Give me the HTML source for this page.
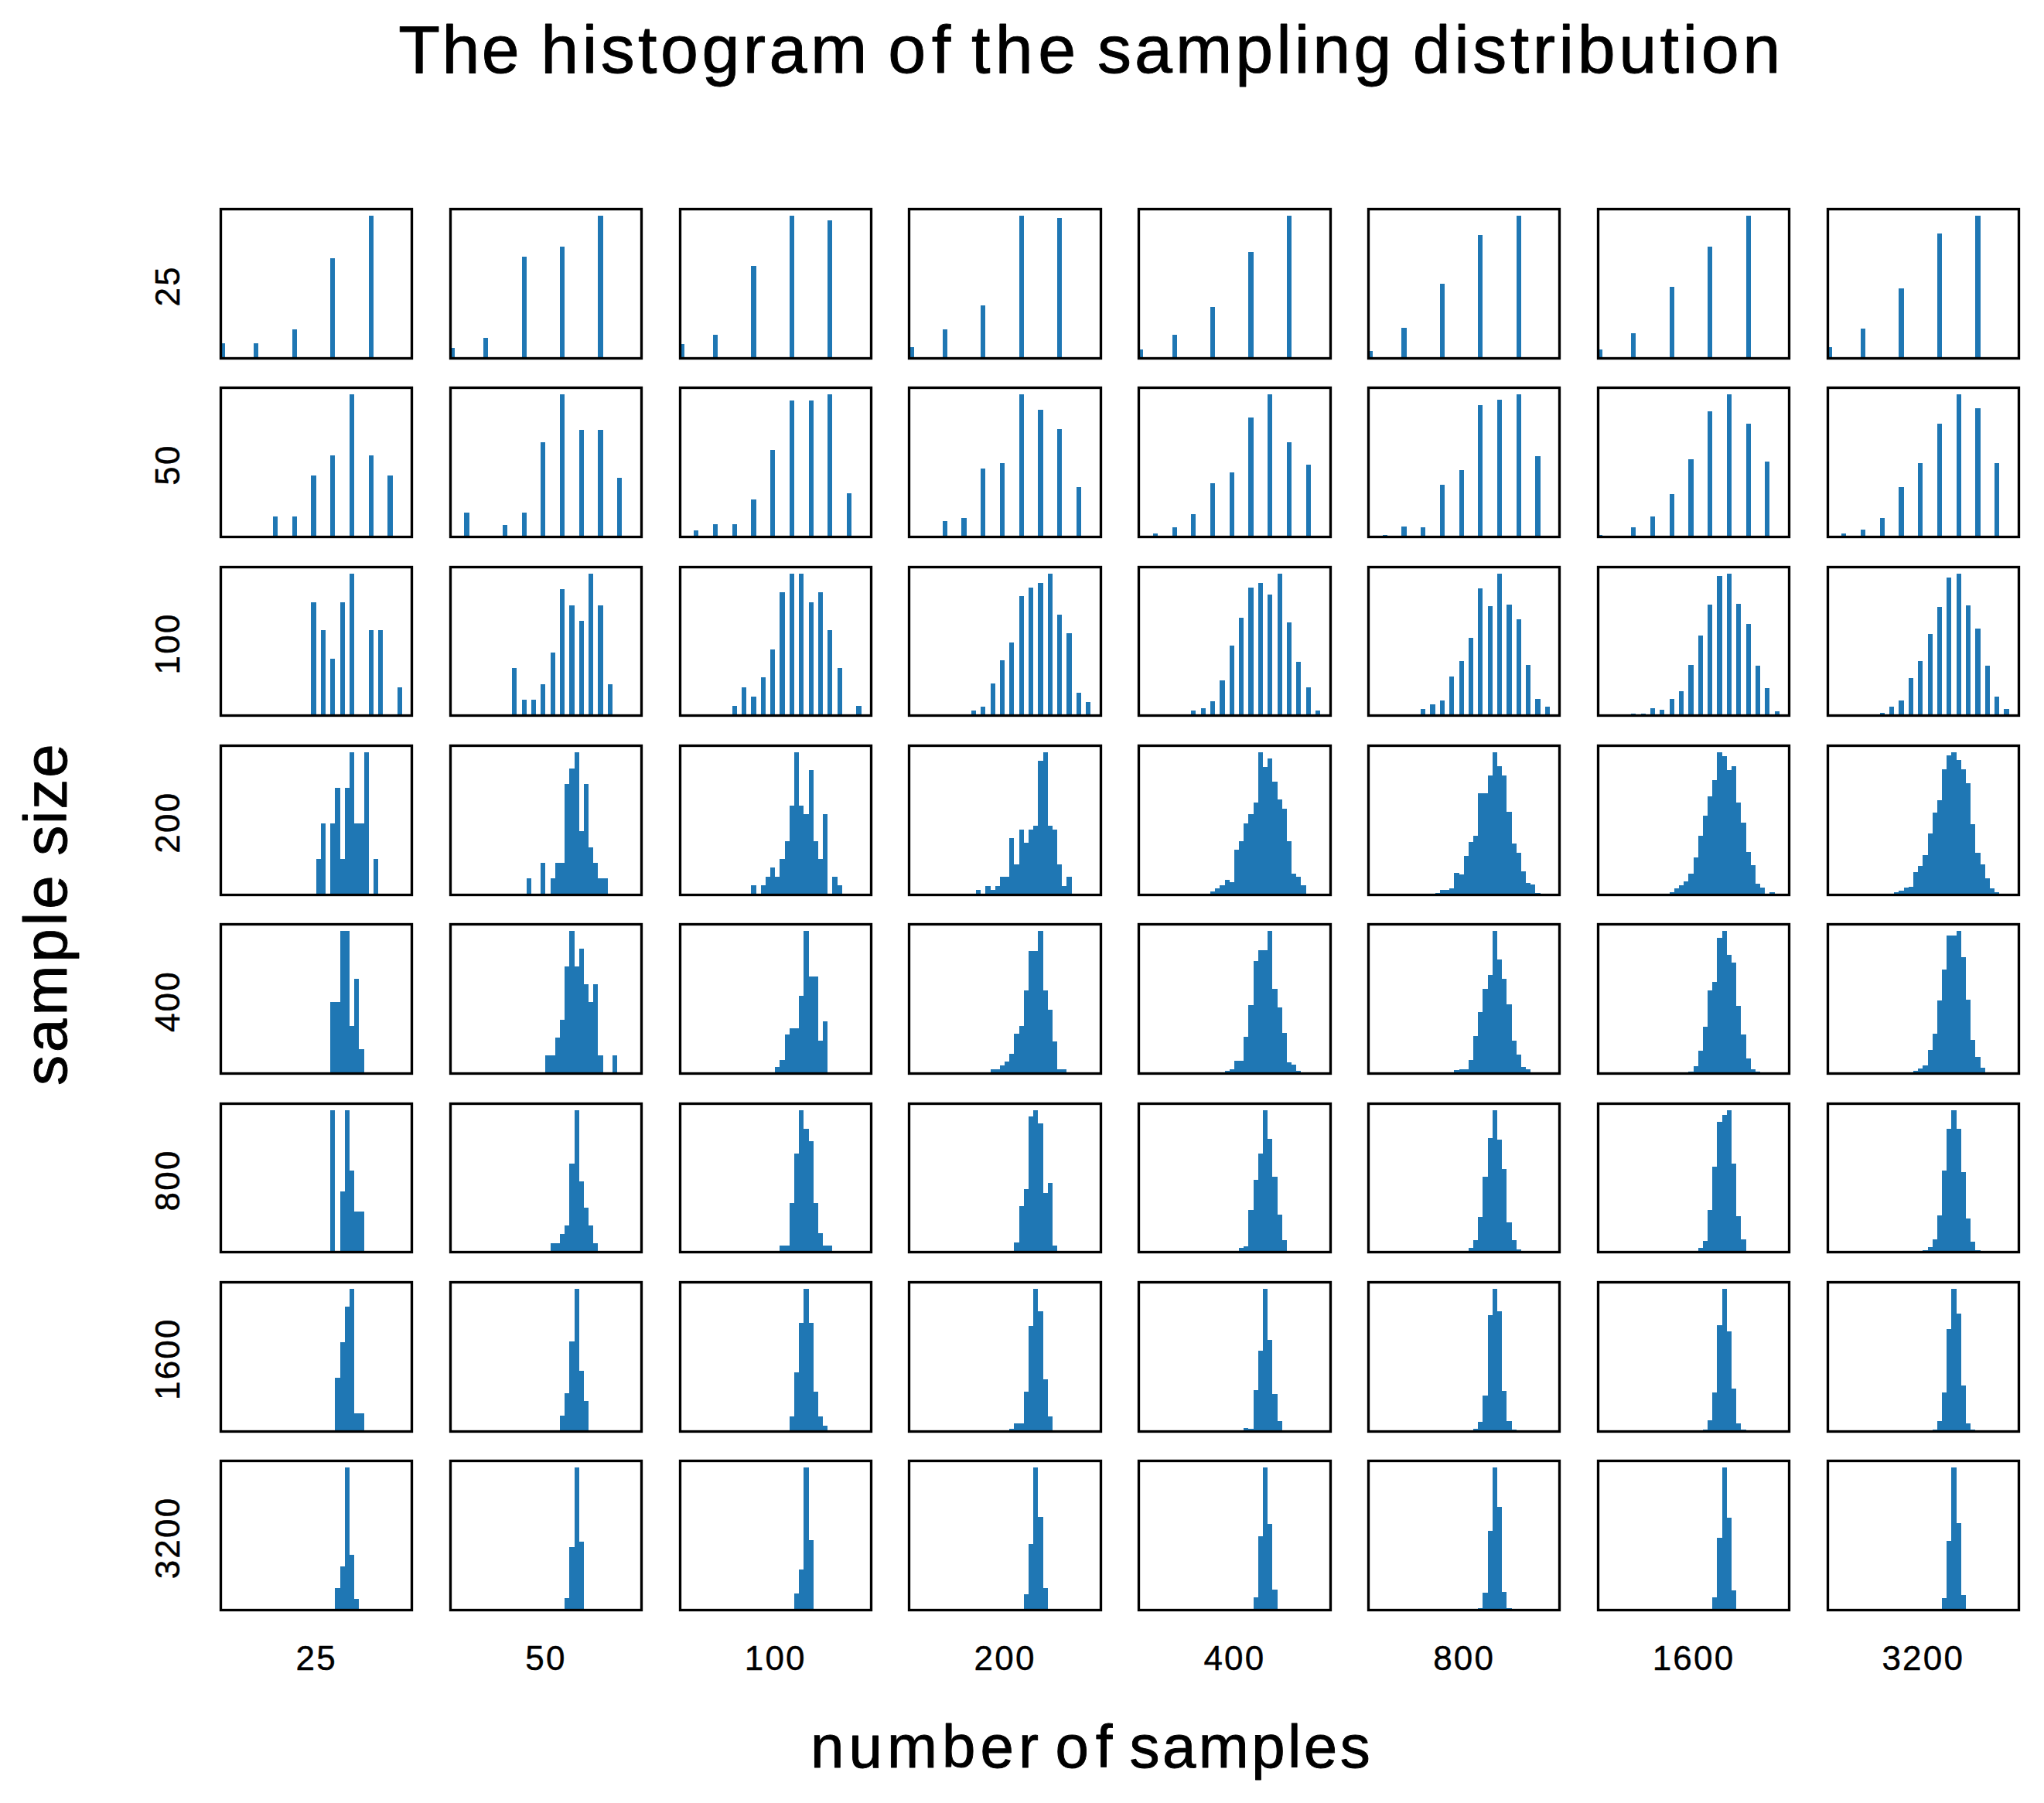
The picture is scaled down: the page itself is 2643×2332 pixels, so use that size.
<!DOCTYPE html>
<html lang="en">
<head>
<meta charset="utf-8">
<title>The histogram of the sampling distribution</title>
<style>
html,body{margin:0;padding:0;background:#fff;}
body{width:2643px;height:2332px;overflow:hidden;}
svg{display:block;}
text{font-family:"Liberation Sans",sans-serif;fill:#000;stroke:#000;stroke-width:0.9px;stroke-linejoin:round;}
.t{stroke-width:0.45px;}
.b{fill:#1f77b4;shape-rendering:crispEdges;}
.f{fill:none;stroke:#000;stroke-width:3.33;stroke-linejoin:miter;}
</style>
</head>
<body>
<svg width="2643" height="2332" viewBox="0 0 2643 2332">
<rect x="0" y="0" width="2643" height="2332" fill="#ffffff"/>
<text y="94.0" font-size="88" xml:space="preserve"><tspan x="515.3" letter-spacing="2.35">The </tspan><tspan x="699.3" letter-spacing="4.44">histogram </tspan><tspan x="1148.3" letter-spacing="7.40">of </tspan><tspan x="1256.0" letter-spacing="6.40">the </tspan><tspan x="1419.0" letter-spacing="4.00">sampling </tspan><tspan x="1826.7" letter-spacing="4.53">distribution</tspan></text>
<text y="2286.2" font-size="78" xml:space="preserve"><tspan x="1048.0" letter-spacing="6.10">number </tspan><tspan x="1364.6" letter-spacing="8.70">of </tspan><tspan x="1460.5" letter-spacing="3.45">samples</tspan></text>
<text transform="translate(86.0 1404.0) rotate(-90)" y="0" font-size="78" xml:space="preserve"><tspan x="0.0" letter-spacing="4.02">sample </tspan><tspan x="297.2" letter-spacing="1.87">size</tspan></text>
<g><path class="b" d="M285 463V444H291V463ZM328 463V444H334V463ZM378 463V426H384V463ZM427 463V334H433V463ZM477 463V279H483V463Z"/><rect class="f" x="285.5" y="270.5" width="247.0" height="193.0"/></g>
<g><path class="b" d="M582 463V450H588V463ZM625 463V437H631V463ZM675 463V332H681V463ZM724 463V319H730V463ZM773 463V279H780V463Z"/><rect class="f" x="582.5" y="270.5" width="247.0" height="193.0"/></g>
<g><path class="b" d="M879 463V445H885V463ZM922 463V433H928V463ZM971 463V344H978V463ZM1021 463V279H1027V463ZM1070 463V285H1076V463Z"/><rect class="f" x="879.5" y="270.5" width="247.0" height="193.0"/></g>
<g><path class="b" d="M1175 463V449H1182V463ZM1219 463V426H1225V463ZM1268 463V395H1274V463ZM1318 463V279H1324V463ZM1367 463V282H1373V463Z"/><rect class="f" x="1175.5" y="270.5" width="248.0" height="193.0"/></g>
<g><path class="b" d="M1472 463V452H1478V463ZM1516 463V433H1522V463ZM1565 463V397H1571V463ZM1614 463V326H1621V463ZM1664 463V279H1670V463Z"/><rect class="f" x="1472.5" y="270.5" width="248.0" height="193.0"/></g>
<g><path class="b" d="M1769 463V454H1775V463ZM1812 463V424H1819V463ZM1862 463V367H1868V463ZM1911 463V304H1917V463ZM1961 463V279H1967V463Z"/><rect class="f" x="1769.5" y="270.5" width="247.0" height="193.0"/></g>
<g><path class="b" d="M2066 463V452H2072V463ZM2109 463V431H2115V463ZM2159 463V371H2165V463ZM2208 463V319H2214V463ZM2258 463V279H2264V463Z"/><rect class="f" x="2066.5" y="270.5" width="247.0" height="193.0"/></g>
<g><path class="b" d="M2363 463V449H2369V463ZM2406 463V425H2412V463ZM2455 463V373H2462V463ZM2505 463V302H2511V463ZM2554 463V279H2561V463Z"/><rect class="f" x="2363.5" y="270.5" width="247.0" height="193.0"/></g>
<g><path class="b" d="M353 694V668H359V694ZM378 694V668H384V694ZM402 694V615H409V694ZM427 694V589H433V694ZM452 694V510H458V694ZM477 694V589H483V694ZM501 694V615H508V694Z"/><rect class="f" x="285.5" y="501.5" width="247.0" height="193.0"/></g>
<g><path class="b" d="M600 694V663H607V694ZM650 694V679H656V694ZM675 694V663H681V694ZM699 694V572H705V694ZM724 694V510H730V694ZM749 694V556H755V694ZM773 694V556H780V694ZM798 694V618H804V694Z"/><rect class="f" x="582.5" y="501.5" width="247.0" height="193.0"/></g>
<g><path class="b" d="M897 694V686H903V694ZM922 694V678H928V694ZM947 694V678H953V694ZM971 694V646H978V694ZM996 694V582H1002V694ZM1021 694V518H1027V694ZM1046 694V518H1052V694ZM1070 694V510H1076V694ZM1095 694V638H1101V694Z"/><rect class="f" x="879.5" y="501.5" width="247.0" height="193.0"/></g>
<g><path class="b" d="M1219 694V674H1225V694ZM1243 694V670H1250V694ZM1268 694V606H1274V694ZM1293 694V599H1299V694ZM1318 694V510H1324V694ZM1342 694V530H1349V694ZM1367 694V555H1373V694ZM1392 694V630H1398V694Z"/><rect class="f" x="1175.5" y="501.5" width="248.0" height="193.0"/></g>
<g><path class="b" d="M1491 694V690H1497V694ZM1516 694V682H1522V694ZM1540 694V665H1546V694ZM1565 694V625H1571V694ZM1590 694V611H1596V694ZM1614 694V540H1621V694ZM1639 694V510H1645V694ZM1664 694V572H1670V694ZM1689 694V601H1695V694Z"/><rect class="f" x="1472.5" y="501.5" width="248.0" height="193.0"/></g>
<g><path class="b" d="M1788 694V692H1794V694ZM1812 694V681H1819V694ZM1837 694V682H1843V694ZM1862 694V627H1868V694ZM1887 694V608H1893V694ZM1911 694V524H1917V694ZM1936 694V517H1942V694ZM1961 694V510H1967V694ZM1985 694V590H1992V694Z"/><rect class="f" x="1769.5" y="501.5" width="247.0" height="193.0"/></g>
<g><path class="b" d="M2066 694V692H2072V694ZM2109 694V682H2115V694ZM2134 694V668H2140V694ZM2159 694V639H2165V694ZM2183 694V594H2190V694ZM2208 694V532H2214V694ZM2233 694V510H2239V694ZM2258 694V548H2264V694ZM2282 694V597H2288V694Z"/><rect class="f" x="2066.5" y="501.5" width="247.0" height="193.0"/></g>
<g><path class="b" d="M2381 694V690H2387V694ZM2406 694V685H2412V694ZM2431 694V670H2437V694ZM2455 694V630H2462V694ZM2480 694V599H2486V694ZM2505 694V548H2511V694ZM2530 694V510H2536V694ZM2554 694V528H2561V694ZM2579 694V599H2585V694Z"/><rect class="f" x="2363.5" y="501.5" width="247.0" height="193.0"/></g>
<g><path class="b" d="M402 925V779H409V925ZM415 925V815H421V925ZM427 925V852H433V925ZM440 925V779H446V925ZM452 925V742H458V925ZM477 925V815H483V925ZM489 925V815H495V925ZM514 925V889H520V925Z"/><rect class="f" x="285.5" y="733.5" width="247.0" height="192.0"/></g>
<g><path class="b" d="M662 925V864H668V925ZM675 925V905H681V925ZM687 925V905H693V925ZM699 925V885H705V925ZM712 925V844H718V925ZM724 925V762H730V925ZM736 925V783H743V925ZM749 925V803H755V925ZM761 925V742H767V925ZM773 925V783H780V925ZM786 925V885H792V925Z"/><rect class="f" x="582.5" y="733.5" width="247.0" height="192.0"/></g>
<g><path class="b" d="M947 925V913H953V925ZM959 925V889H965V925ZM971 925V901H978V925ZM984 925V876H990V925ZM996 925V840H1002V925ZM1008 925V766H1015V925ZM1021 925V742H1027V925ZM1033 925V742H1039V925ZM1046 925V779H1052V925ZM1058 925V766H1064V925ZM1070 925V815H1076V925ZM1083 925V864H1089V925ZM1107 925V913H1114V925Z"/><rect class="f" x="879.5" y="733.5" width="247.0" height="192.0"/></g>
<g><path class="b" d="M1256 925V919H1262V925ZM1268 925V914H1274V925ZM1281 925V884H1287V925ZM1293 925V854H1299V925ZM1305 925V831H1311V925ZM1318 925V771H1324V925ZM1330 925V760H1336V925ZM1342 925V754H1349V925ZM1355 925V742H1361V925ZM1367 925V795H1373V925ZM1379 925V819H1386V925ZM1392 925V896H1398V925ZM1404 925V908H1410V925Z"/><rect class="f" x="1175.5" y="733.5" width="248.0" height="192.0"/></g>
<g><path class="b" d="M1540 925V919H1546V925ZM1553 925V916H1559V925ZM1565 925V907H1571V925ZM1577 925V880H1584V925ZM1590 925V835H1596V925ZM1602 925V799H1608V925ZM1614 925V760H1621V925ZM1627 925V754H1633V925ZM1639 925V769H1645V925ZM1652 925V742H1658V925ZM1664 925V805H1670V925ZM1676 925V856H1682V925ZM1689 925V889H1695V925ZM1701 925V919H1707V925Z"/><rect class="f" x="1472.5" y="733.5" width="248.0" height="192.0"/></g>
<g><path class="b" d="M1837 925V917H1843V925ZM1849 925V911H1856V925ZM1862 925V906H1868V925ZM1874 925V875H1880V925ZM1887 925V855H1893V925ZM1899 925V825H1905V925ZM1911 925V761H1917V925ZM1924 925V784H1930V925ZM1936 925V742H1942V925ZM1948 925V782H1955V925ZM1961 925V801H1967V925ZM1973 925V860H1979V925ZM1985 925V904H1992V925ZM1998 925V914H2004V925Z"/><rect class="f" x="1769.5" y="733.5" width="247.0" height="192.0"/></g>
<g><path class="b" d="M2109 925V923H2115V925ZM2122 925V923H2128V925ZM2134 925V916H2140V925ZM2146 925V918H2152V925ZM2159 925V904H2165V925ZM2171 925V894H2177V925ZM2183 925V860H2190V925ZM2196 925V822H2202V925ZM2208 925V782H2214V925ZM2220 925V745H2227V925ZM2233 925V742H2239V925ZM2245 925V781H2251V925ZM2258 925V807H2264V925ZM2270 925V861H2276V925ZM2282 925V890H2288V925ZM2295 925V920H2301V925Z"/><rect class="f" x="2066.5" y="733.5" width="247.0" height="192.0"/></g>
<g><path class="b" d="M2431 925V922H2437V925ZM2443 925V914H2449V925ZM2455 925V906H2462V925ZM2468 925V877H2474V925ZM2480 925V855H2486V925ZM2493 925V820H2499V925ZM2505 925V785H2511V925ZM2517 925V747H2523V925ZM2530 925V742H2536V925ZM2542 925V783H2548V925ZM2554 925V813H2561V925ZM2567 925V861H2573V925ZM2579 925V901H2585V925ZM2591 925V917H2598V925Z"/><rect class="f" x="2363.5" y="733.5" width="247.0" height="192.0"/></g>
<g><path class="b" d="M409 1157V1111H415V1157ZM415 1157V1065H421V1157ZM427 1157V1065H433V1157ZM433 1157V1019H440V1157ZM440 1157V1111H446V1157ZM446 1157V1019H452V1157ZM452 1157V973H458V1157ZM458 1157V1065H464V1157ZM464 1157V1065H471V1157ZM471 1157V973H477V1157ZM483 1157V1111H489V1157Z"/><rect class="f" x="285.5" y="964.5" width="247.0" height="193.0"/></g>
<g><path class="b" d="M681 1157V1136H687V1157ZM699 1157V1116H705V1157ZM712 1157V1136H718V1157ZM718 1157V1116H724V1157ZM724 1157V1116H730V1157ZM730 1157V1014H736V1157ZM736 1157V994H743V1157ZM743 1157V973H749V1157ZM749 1157V1075H755V1157ZM755 1157V1014H761V1157ZM761 1157V1096H767V1157ZM767 1157V1116H773V1157ZM773 1157V1136H780V1157ZM780 1157V1136H786V1157Z"/><rect class="f" x="582.5" y="964.5" width="247.0" height="193.0"/></g>
<g><path class="b" d="M971 1157V1145H978V1157ZM984 1157V1145H990V1157ZM990 1157V1134H996V1157ZM996 1157V1122H1002V1157ZM1002 1157V1134H1008V1157ZM1008 1157V1111H1015V1157ZM1015 1157V1088H1021V1157ZM1021 1157V1042H1027V1157ZM1027 1157V973H1033V1157ZM1033 1157V1042H1039V1157ZM1039 1157V1053H1046V1157ZM1046 1157V996H1052V1157ZM1052 1157V1088H1058V1157ZM1058 1157V1111H1064V1157ZM1064 1157V1053H1070V1157ZM1076 1157V1134H1083V1157ZM1083 1157V1145H1089V1157Z"/><rect class="f" x="879.5" y="964.5" width="247.0" height="193.0"/></g>
<g><path class="b" d="M1262 1157V1151H1268V1157ZM1274 1157V1146H1281V1157ZM1281 1157V1151H1287V1157ZM1287 1157V1146H1293V1157ZM1293 1157V1134H1299V1157ZM1299 1157V1134H1305V1157ZM1305 1157V1084H1311V1157ZM1311 1157V1118H1318V1157ZM1318 1157V1073H1324V1157ZM1324 1157V1090H1330V1157ZM1330 1157V1073H1336V1157ZM1336 1157V1068H1342V1157ZM1342 1157V984H1349V1157ZM1349 1157V973H1355V1157ZM1355 1157V1068H1361V1157ZM1361 1157V1073H1367V1157ZM1367 1157V1118H1373V1157ZM1373 1157V1146H1379V1157ZM1379 1157V1134H1386V1157Z"/><rect class="f" x="1175.5" y="964.5" width="248.0" height="193.0"/></g>
<g><path class="b" d="M1565 1157V1153H1571V1157ZM1571 1157V1149H1577V1157ZM1577 1157V1145H1584V1157ZM1584 1157V1138H1590V1157ZM1590 1157V1141H1596V1157ZM1596 1157V1099H1602V1157ZM1602 1157V1088H1608V1157ZM1608 1157V1065H1614V1157ZM1614 1157V1053H1621V1157ZM1621 1157V1038H1627V1157ZM1627 1157V973H1633V1157ZM1633 1157V992H1639V1157ZM1639 1157V981H1645V1157ZM1645 1157V1011H1652V1157ZM1652 1157V1034H1658V1157ZM1658 1157V1046H1664V1157ZM1664 1157V1088H1670V1157ZM1670 1157V1130H1676V1157ZM1676 1157V1134H1682V1157ZM1682 1157V1145H1689V1157Z"/><rect class="f" x="1472.5" y="964.5" width="248.0" height="193.0"/></g>
<g><path class="b" d="M1856 1157V1155H1862V1157ZM1862 1157V1151H1868V1157ZM1868 1157V1151H1874V1157ZM1874 1157V1149H1880V1157ZM1880 1157V1129H1887V1157ZM1887 1157V1131H1893V1157ZM1893 1157V1107H1899V1157ZM1899 1157V1089H1905V1157ZM1905 1157V1081H1911V1157ZM1911 1157V1026H1917V1157ZM1917 1157V1026H1924V1157ZM1924 1157V1003H1930V1157ZM1930 1157V973H1936V1157ZM1936 1157V991H1942V1157ZM1942 1157V1003H1948V1157ZM1948 1157V1050H1955V1157ZM1955 1157V1091H1961V1157ZM1961 1157V1103H1967V1157ZM1967 1157V1127H1973V1157ZM1973 1157V1142H1979V1157ZM1979 1157V1144H1985V1157ZM1985 1157V1155H1992V1157Z"/><rect class="f" x="1769.5" y="964.5" width="247.0" height="193.0"/></g>
<g><path class="b" d="M2159 1157V1154H2165V1157ZM2165 1157V1149H2171V1157ZM2171 1157V1145H2177V1157ZM2177 1157V1140H2183V1157ZM2183 1157V1130H2190V1157ZM2190 1157V1109H2196V1157ZM2196 1157V1081H2202V1157ZM2202 1157V1055H2208V1157ZM2208 1157V1030H2214V1157ZM2214 1157V1009H2220V1157ZM2220 1157V973H2227V1157ZM2227 1157V978H2233V1157ZM2233 1157V996H2239V1157ZM2239 1157V991H2245V1157ZM2245 1157V1038H2251V1157ZM2251 1157V1064H2258V1157ZM2258 1157V1102H2264V1157ZM2264 1157V1119H2270V1157ZM2270 1157V1143H2276V1157ZM2276 1157V1148H2282V1157ZM2288 1157V1154H2295V1157Z"/><rect class="f" x="2066.5" y="964.5" width="247.0" height="193.0"/></g>
<g><path class="b" d="M2449 1157V1154H2455V1157ZM2455 1157V1152H2462V1157ZM2462 1157V1148H2468V1157ZM2468 1157V1147H2474V1157ZM2474 1157V1128H2480V1157ZM2480 1157V1120H2486V1157ZM2486 1157V1106H2493V1157ZM2493 1157V1078H2499V1157ZM2499 1157V1051H2505V1157ZM2505 1157V1035H2511V1157ZM2511 1157V995H2517V1157ZM2517 1157V977H2523V1157ZM2523 1157V973H2530V1157ZM2530 1157V983H2536V1157ZM2536 1157V995H2542V1157ZM2542 1157V1013H2548V1157ZM2548 1157V1066H2554V1157ZM2554 1157V1103H2561V1157ZM2561 1157V1118H2567V1157ZM2567 1157V1136H2573V1157ZM2573 1157V1149H2579V1157ZM2579 1157V1154H2585V1157Z"/><rect class="f" x="2363.5" y="964.5" width="247.0" height="193.0"/></g>
<g><path class="b" d="M427 1388V1296H433V1388ZM433 1388V1296H440V1388ZM440 1388V1204H446V1388ZM446 1388V1204H452V1388ZM452 1388V1327H458V1388ZM458 1388V1266H464V1388ZM464 1388V1357H471V1388Z"/><rect class="f" x="285.5" y="1195.5" width="247.0" height="193.0"/></g>
<g><path class="b" d="M705 1388V1365H712V1388ZM712 1388V1365H718V1388ZM718 1388V1342H724V1388ZM724 1388V1319H730V1388ZM730 1388V1250H736V1388ZM736 1388V1204H743V1388ZM743 1388V1250H749V1388ZM749 1388V1227H755V1388ZM755 1388V1273H761V1388ZM761 1388V1296H767V1388ZM767 1388V1273H773V1388ZM773 1388V1365H780V1388ZM792 1388V1365H798V1388Z"/><rect class="f" x="582.5" y="1195.5" width="247.0" height="193.0"/></g>
<g><path class="b" d="M1002 1388V1380H1008V1388ZM1008 1388V1371H1015V1388ZM1015 1388V1338H1021V1388ZM1021 1388V1330H1027V1388ZM1027 1388V1330H1033V1388ZM1033 1388V1288H1039V1388ZM1039 1388V1204H1046V1388ZM1046 1388V1263H1052V1388ZM1052 1388V1263H1058V1388ZM1058 1388V1346H1064V1388ZM1064 1388V1321H1070V1388Z"/><rect class="f" x="879.5" y="1195.5" width="247.0" height="193.0"/></g>
<g><path class="b" d="M1281 1388V1383H1287V1388ZM1287 1388V1383H1293V1388ZM1293 1388V1378H1299V1388ZM1299 1388V1373H1305V1388ZM1305 1388V1363H1311V1388ZM1311 1388V1337H1318V1388ZM1318 1388V1327H1324V1388ZM1324 1388V1281H1330V1388ZM1330 1388V1230H1336V1388ZM1336 1388V1230H1342V1388ZM1342 1388V1204H1349V1388ZM1349 1388V1281H1355V1388ZM1355 1388V1306H1361V1388ZM1361 1388V1347H1367V1388ZM1367 1388V1383H1373V1388ZM1373 1388V1383H1379V1388Z"/><rect class="f" x="1175.5" y="1195.5" width="248.0" height="193.0"/></g>
<g><path class="b" d="M1584 1388V1385H1590V1388ZM1590 1388V1383H1596V1388ZM1596 1388V1372H1602V1388ZM1602 1388V1372H1608V1388ZM1608 1388V1341H1614V1388ZM1614 1388V1300H1621V1388ZM1621 1388V1243H1627V1388ZM1627 1388V1229H1633V1388ZM1633 1388V1229H1639V1388ZM1639 1388V1204H1645V1388ZM1645 1388V1279H1652V1388ZM1652 1388V1303H1658V1388ZM1658 1388V1336H1664V1388ZM1664 1388V1374H1670V1388ZM1670 1388V1377H1676V1388ZM1676 1388V1385H1682V1388Z"/><rect class="f" x="1472.5" y="1195.5" width="248.0" height="193.0"/></g>
<g><path class="b" d="M1880 1388V1384H1887V1388ZM1887 1388V1383H1893V1388ZM1893 1388V1383H1899V1388ZM1899 1388V1371H1905V1388ZM1905 1388V1340H1911V1388ZM1911 1388V1309H1917V1388ZM1917 1388V1279H1924V1388ZM1924 1388V1261H1930V1388ZM1930 1388V1204H1936V1388ZM1936 1388V1241H1942V1388ZM1942 1388V1266H1948V1388ZM1948 1388V1299H1955V1388ZM1955 1388V1346H1961V1388ZM1961 1388V1364H1967V1388ZM1967 1388V1380H1973V1388ZM1973 1388V1383H1979V1388Z"/><rect class="f" x="1769.5" y="1195.5" width="247.0" height="193.0"/></g>
<g><path class="b" d="M2183 1388V1386H2190V1388ZM2190 1388V1379H2196V1388ZM2196 1388V1359H2202V1388ZM2202 1388V1328H2208V1388ZM2208 1388V1281H2214V1388ZM2214 1388V1270H2220V1388ZM2220 1388V1213H2227V1388ZM2227 1388V1204H2233V1388ZM2233 1388V1235H2239V1388ZM2239 1388V1245H2245V1388ZM2245 1388V1301H2251V1388ZM2251 1388V1338H2258V1388ZM2258 1388V1369H2264V1388ZM2264 1388V1383H2270V1388ZM2270 1388V1386H2276V1388Z"/><rect class="f" x="2066.5" y="1195.5" width="247.0" height="193.0"/></g>
<g><path class="b" d="M2474 1388V1385H2480V1388ZM2480 1388V1382H2486V1388ZM2486 1388V1378H2493V1388ZM2493 1388V1358H2499V1388ZM2499 1388V1337H2505V1388ZM2505 1388V1294H2511V1388ZM2511 1388V1254H2517V1388ZM2517 1388V1210H2523V1388ZM2523 1388V1210H2530V1388ZM2530 1388V1204H2536V1388ZM2536 1388V1238H2542V1388ZM2542 1388V1293H2548V1388ZM2548 1388V1345H2554V1388ZM2554 1388V1367H2561V1388ZM2561 1388V1381H2567V1388Z"/><rect class="f" x="2363.5" y="1195.5" width="247.0" height="193.0"/></g>
<g><path class="b" d="M427 1619V1436H433V1619ZM440 1619V1541H446V1619ZM446 1619V1436H452V1619ZM452 1619V1514H458V1619ZM458 1619V1567H464V1619ZM464 1619V1567H471V1619Z"/><rect class="f" x="285.5" y="1427.5" width="247.0" height="192.0"/></g>
<g><path class="b" d="M712 1619V1608H718V1619ZM718 1619V1608H724V1619ZM724 1619V1596H730V1619ZM730 1619V1585H736V1619ZM736 1619V1505H743V1619ZM743 1619V1436H749V1619ZM749 1619V1528H755V1619ZM755 1619V1562H761V1619ZM761 1619V1585H767V1619ZM767 1619V1608H773V1619Z"/><rect class="f" x="582.5" y="1427.5" width="247.0" height="192.0"/></g>
<g><path class="b" d="M1008 1619V1611H1015V1619ZM1015 1619V1611H1021V1619ZM1021 1619V1556H1027V1619ZM1027 1619V1492H1033V1619ZM1033 1619V1436H1039V1619ZM1039 1619V1460H1046V1619ZM1046 1619V1476H1052V1619ZM1052 1619V1556H1058V1619ZM1058 1619V1595H1064V1619ZM1064 1619V1611H1070V1619ZM1070 1619V1611H1076V1619Z"/><rect class="f" x="879.5" y="1427.5" width="247.0" height="192.0"/></g>
<g><path class="b" d="M1311 1619V1607H1318V1619ZM1318 1619V1560H1324V1619ZM1324 1619V1538H1330V1619ZM1330 1619V1444H1336V1619ZM1336 1619V1436H1342V1619ZM1342 1619V1453H1349V1619ZM1349 1619V1543H1355V1619ZM1355 1619V1530H1361V1619ZM1361 1619V1611H1367V1619Z"/><rect class="f" x="1175.5" y="1427.5" width="248.0" height="192.0"/></g>
<g><path class="b" d="M1602 1619V1614H1608V1619ZM1608 1619V1612H1614V1619ZM1614 1619V1565H1621V1619ZM1621 1619V1526H1627V1619ZM1627 1619V1492H1633V1619ZM1633 1619V1436H1639V1619ZM1639 1619V1473H1645V1619ZM1645 1619V1522H1652V1619ZM1652 1619V1571H1658V1619ZM1658 1619V1604H1664V1619Z"/><rect class="f" x="1472.5" y="1427.5" width="248.0" height="192.0"/></g>
<g><path class="b" d="M1899 1619V1614H1905V1619ZM1905 1619V1604H1911V1619ZM1911 1619V1574H1917V1619ZM1917 1619V1522H1924V1619ZM1924 1619V1472H1930V1619ZM1930 1619V1436H1936V1619ZM1936 1619V1474H1942V1619ZM1942 1619V1512H1948V1619ZM1948 1619V1581H1955V1619ZM1955 1619V1604H1961V1619ZM1961 1619V1616H1967V1619Z"/><rect class="f" x="1769.5" y="1427.5" width="247.0" height="192.0"/></g>
<g><path class="b" d="M2196 1619V1614H2202V1619ZM2202 1619V1605H2208V1619ZM2208 1619V1565H2214V1619ZM2214 1619V1509H2220V1619ZM2220 1619V1451H2227V1619ZM2227 1619V1442H2233V1619ZM2233 1619V1436H2239V1619ZM2239 1619V1505H2245V1619ZM2245 1619V1573H2251V1619ZM2251 1619V1603H2258V1619Z"/><rect class="f" x="2066.5" y="1427.5" width="247.0" height="192.0"/></g>
<g><path class="b" d="M2486 1619V1617H2493V1619ZM2493 1619V1613H2499V1619ZM2499 1619V1603H2505V1619ZM2505 1619V1572H2511V1619ZM2511 1619V1514H2517V1619ZM2517 1619V1460H2523V1619ZM2523 1619V1436H2530V1619ZM2530 1619V1460H2536V1619ZM2536 1619V1516H2542V1619ZM2542 1619V1576H2548V1619ZM2548 1619V1606H2554V1619ZM2554 1619V1617H2561V1619Z"/><rect class="f" x="2363.5" y="1427.5" width="247.0" height="192.0"/></g>
<g><path class="b" d="M433 1851V1782H440V1851ZM440 1851V1736H446V1851ZM446 1851V1690H452V1851ZM452 1851V1667H458V1851ZM458 1851V1828H464V1851ZM464 1851V1828H471V1851Z"/><rect class="f" x="285.5" y="1658.5" width="247.0" height="193.0"/></g>
<g><path class="b" d="M724 1851V1831H730V1851ZM730 1851V1802H736V1851ZM736 1851V1735H743V1851ZM743 1851V1667H749V1851ZM749 1851V1773H755V1851ZM755 1851V1812H761V1851Z"/><rect class="f" x="582.5" y="1658.5" width="247.0" height="193.0"/></g>
<g><path class="b" d="M1021 1851V1832H1027V1851ZM1027 1851V1775H1033V1851ZM1033 1851V1711H1039V1851ZM1039 1851V1667H1046V1851ZM1046 1851V1711H1052V1851ZM1052 1851V1800H1058V1851ZM1058 1851V1832H1064V1851ZM1064 1851V1844H1070V1851Z"/><rect class="f" x="879.5" y="1658.5" width="247.0" height="193.0"/></g>
<g><path class="b" d="M1305 1851V1848H1311V1851ZM1311 1851V1841H1318V1851ZM1318 1851V1841H1324V1851ZM1324 1851V1800H1330V1851ZM1330 1851V1715H1336V1851ZM1336 1851V1667H1342V1851ZM1342 1851V1696H1349V1851ZM1349 1851V1784H1355V1851ZM1355 1851V1832H1361V1851Z"/><rect class="f" x="1175.5" y="1658.5" width="248.0" height="193.0"/></g>
<g><path class="b" d="M1608 1851V1847H1614V1851ZM1614 1851V1848H1621V1851ZM1621 1851V1798H1627V1851ZM1627 1851V1747H1633V1851ZM1633 1851V1667H1639V1851ZM1639 1851V1733H1645V1851ZM1645 1851V1803H1652V1851ZM1652 1851V1838H1658V1851Z"/><rect class="f" x="1472.5" y="1658.5" width="248.0" height="193.0"/></g>
<g><path class="b" d="M1905 1851V1848H1911V1851ZM1911 1851V1839H1917V1851ZM1917 1851V1805H1924V1851ZM1924 1851V1701H1930V1851ZM1930 1851V1667H1936V1851ZM1936 1851V1696H1942V1851ZM1942 1851V1799H1948V1851ZM1948 1851V1838H1955V1851ZM1955 1851V1849H1961V1851Z"/><rect class="f" x="1769.5" y="1658.5" width="247.0" height="193.0"/></g>
<g><path class="b" d="M2202 1851V1849H2208V1851ZM2208 1851V1837H2214V1851ZM2214 1851V1801H2220V1851ZM2220 1851V1714H2227V1851ZM2227 1851V1667H2233V1851ZM2233 1851V1722H2239V1851ZM2239 1851V1796H2245V1851ZM2245 1851V1841H2251V1851ZM2251 1851V1849H2258V1851Z"/><rect class="f" x="2066.5" y="1658.5" width="247.0" height="193.0"/></g>
<g><path class="b" d="M2499 1851V1849H2505V1851ZM2505 1851V1838H2511V1851ZM2511 1851V1801H2517V1851ZM2517 1851V1719H2523V1851ZM2523 1851V1667H2530V1851ZM2530 1851V1699H2536V1851ZM2536 1851V1792H2542V1851ZM2542 1851V1841H2548V1851ZM2548 1851V1849H2554V1851Z"/><rect class="f" x="2363.5" y="1658.5" width="247.0" height="193.0"/></g>
<g><path class="b" d="M433 2082V2054H440V2082ZM440 2082V2026H446V2082ZM446 2082V1898H452V2082ZM452 2082V2011H458V2082ZM458 2082V2068H464V2082Z"/><rect class="f" x="285.5" y="1889.5" width="247.0" height="193.0"/></g>
<g><path class="b" d="M730 2082V2067H736V2082ZM736 2082V2001H743V2082ZM743 2082V1898H749V2082ZM749 2082V1994H755V2082Z"/><rect class="f" x="582.5" y="1889.5" width="247.0" height="193.0"/></g>
<g><path class="b" d="M1027 2082V2061H1033V2082ZM1033 2082V2030H1039V2082ZM1039 2082V1898H1046V2082ZM1046 2082V1992H1052V2082Z"/><rect class="f" x="879.5" y="1889.5" width="247.0" height="193.0"/></g>
<g><path class="b" d="M1324 2082V2062H1330V2082ZM1330 2082V1997H1336V2082ZM1336 2082V1898H1342V2082ZM1342 2082V1962H1349V2082ZM1349 2082V2054H1355V2082Z"/><rect class="f" x="1175.5" y="1889.5" width="248.0" height="193.0"/></g>
<g><path class="b" d="M1621 2082V2066H1627V2082ZM1627 2082V1987H1633V2082ZM1633 2082V1898H1639V2082ZM1639 2082V1971H1645V2082ZM1645 2082V2056H1652V2082Z"/><rect class="f" x="1472.5" y="1889.5" width="248.0" height="193.0"/></g>
<g><path class="b" d="M1911 2082V2080H1917V2082ZM1917 2082V2060H1924V2082ZM1924 2082V1980H1930V2082ZM1930 2082V1898H1936V2082ZM1936 2082V1949H1942V2082ZM1942 2082V2059H1948V2082ZM1948 2082V2080H1955V2082Z"/><rect class="f" x="1769.5" y="1889.5" width="247.0" height="193.0"/></g>
<g><path class="b" d="M2214 2082V2066H2220V2082ZM2220 2082V1989H2227V2082ZM2227 2082V1898H2233V2082ZM2233 2082V1963H2239V2082ZM2239 2082V2057H2245V2082Z"/><rect class="f" x="2066.5" y="1889.5" width="247.0" height="193.0"/></g>
<g><path class="b" d="M2511 2082V2067H2517V2082ZM2517 2082V1993H2523V2082ZM2523 2082V1898H2530V2082ZM2530 2082V1970H2536V2082ZM2536 2082V2063H2542V2082Z"/><rect class="f" x="2363.5" y="1889.5" width="247.0" height="193.0"/></g>
<text class="t" x="409.2" y="2160.4" font-size="44" text-anchor="middle" letter-spacing="2.2">25</text>
<text class="t" x="706.0" y="2160.4" font-size="44" text-anchor="middle" letter-spacing="2.2">50</text>
<text class="t" x="1002.8" y="2160.4" font-size="44" text-anchor="middle" letter-spacing="2.2">100</text>
<text class="t" x="1299.6" y="2160.4" font-size="44" text-anchor="middle" letter-spacing="2.2">200</text>
<text class="t" x="1596.4" y="2160.4" font-size="44" text-anchor="middle" letter-spacing="2.2">400</text>
<text class="t" x="1893.2" y="2160.4" font-size="44" text-anchor="middle" letter-spacing="2.2">800</text>
<text class="t" x="2190.0" y="2160.4" font-size="44" text-anchor="middle" letter-spacing="2.2">1600</text>
<text class="t" x="2486.8" y="2160.4" font-size="44" text-anchor="middle" letter-spacing="2.2">3200</text>
<text class="t" transform="translate(232.4 369.8) rotate(-90)" font-size="44" text-anchor="middle" letter-spacing="2.2">25</text>
<text class="t" transform="translate(232.4 601.1) rotate(-90)" font-size="44" text-anchor="middle" letter-spacing="2.2">50</text>
<text class="t" transform="translate(232.4 832.4) rotate(-90)" font-size="44" text-anchor="middle" letter-spacing="2.2">100</text>
<text class="t" transform="translate(232.4 1063.7) rotate(-90)" font-size="44" text-anchor="middle" letter-spacing="2.2">200</text>
<text class="t" transform="translate(232.4 1295.1) rotate(-90)" font-size="44" text-anchor="middle" letter-spacing="2.2">400</text>
<text class="t" transform="translate(232.4 1526.4) rotate(-90)" font-size="44" text-anchor="middle" letter-spacing="2.2">800</text>
<text class="t" transform="translate(232.4 1757.7) rotate(-90)" font-size="44" text-anchor="middle" letter-spacing="2.2">1600</text>
<text class="t" transform="translate(232.4 1989.0) rotate(-90)" font-size="44" text-anchor="middle" letter-spacing="2.2">3200</text>
</svg>
</body>
</html>
